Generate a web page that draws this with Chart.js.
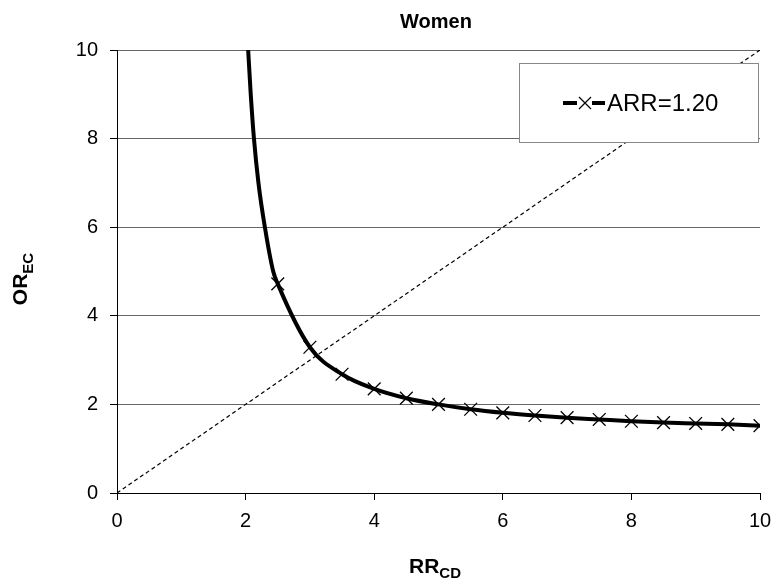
<!DOCTYPE html>
<html>
<head>
<meta charset="utf-8">
<script src="https://cdn.jsdelivr.net/npm/chart.js@4"></script>
<style>
  html, body { margin: 0; padding: 0; background: #fff; }
  #wrap { width: 771px; height: 585px; }
</style>
</head>
<body>
<div id="wrap"><canvas id="chart" width="771" height="585"></canvas></div>
<script>
// curve ARR=1.20 (first points have no marker)
const rrCD = [2.04, 2.08, 2.13, 2.2, 2.3, 2.43, 2.5, 3, 3.5, 4, 4.5, 5, 5.5, 6, 6.5, 7, 7.5, 8, 8.5, 9, 9.5, 10];
const orEC = [10, 9, 8, 7, 6, 5, 4.72, 3.29, 2.68, 2.35, 2.14, 2.0, 1.89, 1.81, 1.75, 1.7, 1.66, 1.62, 1.59, 1.57, 1.55, 1.52];
const markerFrom = 6; // index of first marked point
// dotted reference line y = x
const diagX = [0, 10];
const diagY = [0, 10];
const xTicks = [0, 2, 4, 6, 8, 10];
const yTicks = [0, 2, 4, 6, 8, 10];
const seriesLabel = 'ARR=1.20';
const chartTitle = 'Women';

const FONT = '"Liberation Sans", Arial, sans-serif';

// main text + subscript, centred on cx
function drawSub(ctx, main, sub, cx, base, subBase) {
  ctx.font = 'bold 21px ' + FONT;
  const w1 = ctx.measureText(main).width;
  ctx.font = 'bold 15px ' + FONT;
  const w2 = ctx.measureText(sub).width;
  const start = cx - (w1 + w2) / 2;
  ctx.textAlign = 'left';
  ctx.textBaseline = 'alphabetic';
  ctx.font = 'bold 21px ' + FONT;
  ctx.fillText(main, start, base);
  ctx.font = 'bold 15px ' + FONT;
  ctx.fillText(sub, start + w1, subBase);
}

// titles with subscripts + legend box inside the plot
const extras = {
  id: 'extras',
  afterDraw(chart) {
    const ctx = chart.ctx;
    const a = chart.chartArea;
    ctx.save();
    ctx.fillStyle = '#000';

    ctx.font = 'bold 20px ' + FONT;
    ctx.textAlign = 'center';
    ctx.textBaseline = 'alphabetic';
    ctx.fillText(chartTitle, 436, 28);

    drawSub(ctx, 'RR', 'CD', 435, 573, 578);

    ctx.save();
    ctx.translate(0, 279);
    ctx.rotate(-Math.PI / 2);
    drawSub(ctx, 'OR', 'EC', 0, 27, 33);
    ctx.restore();

    // legend
    const bx = 519, by = 63, bw = 239, bh = 79;
    ctx.fillStyle = '#fff';
    ctx.fillRect(bx, by, bw, bh);
    ctx.strokeStyle = '#888';
    ctx.lineWidth = 1;
    ctx.strokeRect(bx + 0.5, by + 0.5, bw, bh);
    const cy = 103;
    ctx.strokeStyle = '#000';
    ctx.lineWidth = 4;
    ctx.beginPath();
    ctx.moveTo(563, cy); ctx.lineTo(577, cy);
    ctx.moveTo(592, cy); ctx.lineTo(605, cy);
    ctx.stroke();
    ctx.lineWidth = 1.2;
    ctx.beginPath();
    ctx.moveTo(579, cy - 6); ctx.lineTo(591, cy + 6);
    ctx.moveTo(591, cy - 6); ctx.lineTo(579, cy + 6);
    ctx.stroke();
    ctx.fillStyle = '#000';
    ctx.font = '24px ' + FONT;
    ctx.textAlign = 'left';
    ctx.textBaseline = 'middle';
    ctx.fillText(seriesLabel, 607, cy + 1);
    ctx.restore();
  }
};

new Chart(document.getElementById('chart'), {
  type: 'scatter',
  data: {
    datasets: [
      {
        label: seriesLabel,
        data: rrCD.map((x, i) => ({ x: x, y: orEC[i] })),
        showLine: true,
        borderColor: '#000',
        borderWidth: 4,
        cubicInterpolationMode: 'monotone',
        pointStyle: 'crossRot',
        pointRadius: rrCD.map((x, i) => i >= markerFrom ? 9 : 0),
        pointBorderWidth: 1.3,
        pointBorderColor: '#000',
        pointBackgroundColor: '#000',
        order: 1
      },
      {
        label: 'diag',
        data: diagX.map((x, i) => ({ x: x, y: diagY[i] })),
        showLine: true,
        borderColor: '#000',
        borderWidth: 1.2,
        borderDash: [4, 3],
        pointRadius: 0,
        order: 2
      }
    ]
  },
  options: {
    responsive: false,
    animation: false,
    layout: { padding: { left: 0, right: 11, top: 50, bottom: 0 } },
    plugins: {
      legend: { display: false },
      title: { display: false },
      tooltip: { enabled: false }
    },
    scales: {
      x: {
        type: 'linear',
        min: 0, max: 10,
        afterFit(s) { s.height = 92; s.paddingLeft = 0; s.paddingRight = 0; },
        afterBuildTicks(s) { s.ticks = xTicks.map(v => ({ value: v })); },
        grid: { drawOnChartArea: false, color: '#000', tickLength: 7, tickColor: '#000' },
        border: { color: '#000', width: 1 },
        ticks: { font: { family: FONT, size: 20 }, color: '#000', padding: 9, maxRotation: 0 }
      },
      y: {
        type: 'linear',
        min: 0, max: 10,
        afterFit(s) { s.width = 117; s.paddingTop = 0; s.paddingBottom = 0; },
        afterBuildTicks(s) { s.ticks = yTicks.map(v => ({ value: v })); },
        grid: { color: '#666', lineWidth: 1, tickLength: 7, tickColor: '#000' },
        border: { color: '#000', width: 1 },
        ticks: { font: { family: FONT, size: 20 }, color: '#000', padding: 12 }
      }
    }
  },
  plugins: [extras]
});
</script>
</body>
</html>
